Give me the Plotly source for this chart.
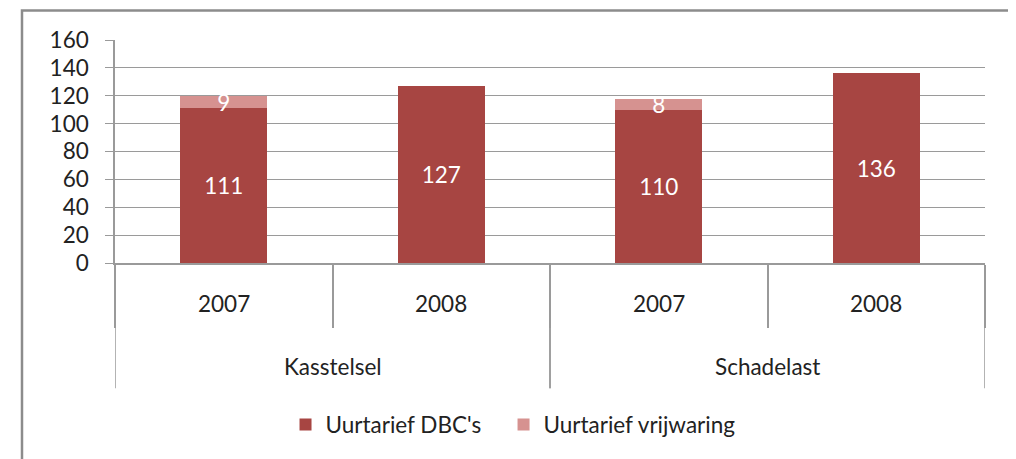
import plotly.graph_objects as go

# data
groups = ["Kasstelsel", "Kasstelsel", "Schadelast", "Schadelast"]
years = ["2007", "2008", "2007", "2008"]
dbc = [111, 127, 110, 136]
vrijwaring = [9, None, 8, None]
y_ticks = [0, 20, 40, 60, 80, 100, 120, 140, 160]

FONT = "Lato"
FS = 22.5
GRID = "#9a9a9a"
TEXT = "#222222"

pos = list(range(len(years)))

fig = go.Figure()
fig.add_trace(go.Bar(
    x=pos, y=dbc, width=0.4,
    name="Uurtarief DBC's", legend="legend",
    marker=dict(color="#A74542", line=dict(width=0)),
    text=[str(v) for v in dbc],
    textposition="inside", insidetextanchor="middle", textangle=0,
    textfont=dict(color="white", size=FS, family=FONT),
    constraintext="none",
))
fig.add_trace(go.Bar(
    x=pos, y=vrijwaring, width=0.4,
    name="Uurtarief vrijwaring", legend="legend2",
    marker=dict(color="#D69290", line=dict(width=0)),
    text=["" if v is None else str(v) for v in vrijwaring],
    textposition="inside", insidetextanchor="middle", textangle=0,
    textfont=dict(color="white", size=FS, family=FONT),
    constraintext="none",
))

# year labels and group labels under the axis
for i, yr in enumerate(years):
    fig.add_annotation(x=i, xref="x", y=-0.181, yref="paper", text=yr,
                       showarrow=False, yanchor="middle",
                       font=dict(size=FS, family=FONT, color=TEXT))
seen = []
for g in groups:
    if g in seen:
        continue
    seen.append(g)
    idx = [i for i, gg in enumerate(groups) if gg == g]
    fig.add_annotation(x=sum(idx) / len(idx), xref="x", y=-0.465, yref="paper",
                       text=g, showarrow=False, yanchor="middle",
                       font=dict(size=FS, family=FONT, color=TEXT))
    # long divider lines at group edges
    for xb in (idx[0] - 0.5, idx[-1] + 0.5):
        fig.add_shape(type="line", xref="x", yref="paper",
                      x0=xb, x1=xb, y0=0, y1=-0.562,
                      line=dict(color=GRID, width=1.5))

# outer chart frame
fig.add_shape(type="rect", xref="paper", yref="paper",
              x0=-0.1069, x1=1.0322, y0=-0.95, y1=1.1327,
              line=dict(color="#8c8c8c", width=2.5), layer="below")

leg = dict(orientation="h", xanchor="left", y=-0.726, yanchor="middle",
           font=dict(size=FS, family=FONT, color=TEXT), itemwidth=30)

# page body has an 8px margin, so the figure is sized/offset for it
fig.update_layout(
    width=1008, height=451,
    margin=dict(l=107, r=31, t=32, b=193),
    barmode="stack",
    plot_bgcolor="white", paper_bgcolor="white",
    font=dict(family=FONT, size=FS, color=TEXT),
    showlegend=True,
    legend=dict(x=0.196, **leg),
    legend2=dict(x=0.4466, **leg),
    xaxis=dict(
        range=[-0.5, len(years) - 0.5],
        showticklabels=False, showgrid=False, zeroline=False,
        showline=True, linecolor=GRID, linewidth=1.5,
        ticks="",
        minor=dict(tickvals=[p - 0.5 for p in pos] + [pos[-1] + 0.5],
                   ticks="outside", ticklen=63, tickcolor=GRID,
                   tickwidth=1.5, showgrid=False),
    ),
    yaxis=dict(
        range=[0, 160], tickvals=y_ticks,
        showgrid=True, gridcolor=GRID, gridwidth=1.2,
        zeroline=False, showline=True, linecolor=GRID, linewidth=1.5,
        ticks="outside", ticklen=8, tickcolor=GRID, tickwidth=1.2,
        ticklabelstandoff=12,
        tickfont=dict(size=FS, family=FONT, color=TEXT),
    ),
)

fig.write_html("out.html")
